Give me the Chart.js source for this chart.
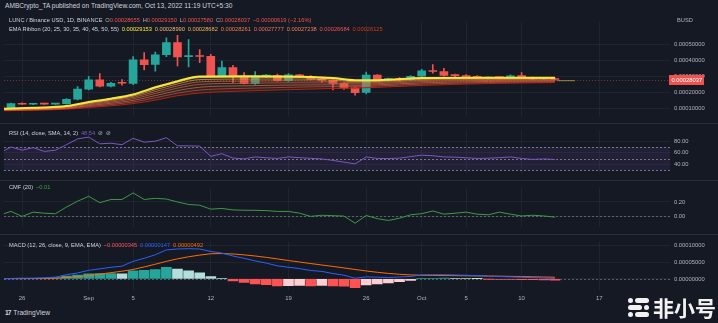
<!DOCTYPE html>
<html>
<head>
<meta charset="utf-8">
<script src="https://cdn.jsdelivr.net/npm/chart.js"></script>
<style>
  body { margin: 0; width: 718px; height: 323px; background: #151924; position: relative; overflow: hidden;
         font-family: "Liberation Sans", sans-serif; }
  canvas { position: absolute; left: 0; }
  .t { position: absolute; white-space: nowrap; font-size: 6px; line-height: 10px; color: #b2b5be;
       transform: scaleX(0.95); transform-origin: left center; }
  .t span { margin-right: 3px; }
  .sep { position: absolute; left: 0; width: 718px; height: 1px; background: #2a2e39; }
  .wm { position: absolute; background: #f2f2f2; border-radius: 3px; }
</style>
</head>
<body>
<canvas id="pricePane" width="718" height="109" style="top:14px"></canvas>
<canvas id="rsiPane" width="718" height="57" style="top:123px"></canvas>
<canvas id="cmfPane" width="718" height="54" style="top:180px"></canvas>
<canvas id="macdPane" width="718" height="71" style="top:234px"></canvas>
<div class="sep" style="top:123px"></div>
<div class="sep" style="top:180px"></div>
<div class="sep" style="top:234px"></div>

<div class="t" id="published" style="left:5px;top:1px;color:#d1d4dc;font-size:6.6px;transform:none">AMBCrypto_TA published on TradingView.com, Oct 13, 2022 11:19 UTC+5:30</div>
<div class="t" id="ohlcRow" style="left:9px;top:15px"></div>
<div class="t" id="ribbonRow" style="left:9px;top:24px"></div>
<div class="t" style="left:677px;top:15px">BUSD</div>
<div class="t" id="rsiRow" style="left:9px;top:128px"></div>
<div class="t" id="cmfRow" style="left:9px;top:182px"></div>
<div class="t" id="macdRow" style="left:9px;top:240px"></div>

<div class="t" style="left:5px;top:308px;color:#d1d4dc;font-size:7px"><b style="letter-spacing:-1px;margin-right:3px">17</b>TradingView</div>

<div class="wm" style="left:628px;top:298px;width:5px;height:5px;border-radius:50%"></div>
<div class="wm" style="left:635px;top:298px;width:14px;height:5px"></div>
<div class="wm" style="left:628px;top:305px;width:14px;height:5px"></div>
<div class="wm" style="left:644px;top:305px;width:5px;height:5px;border-radius:50%"></div>
<div class="wm" style="left:628px;top:312px;width:5px;height:5px;border-radius:50%"></div>
<div class="wm" style="left:635px;top:312px;width:14px;height:5px"></div>
<div style="position:absolute;left:653px;top:294px;font:bold 21px 'Noto Sans CJK SC';color:#f2f2f2;line-height:26px">非小号</div>

<script>
// LUNC / BUSD daily, Aug 24 .. Oct 13 2022 (first bar sits just left of the visible range)
const opens = [0.000105,
  0.000102, 0.000128, 0.000124, 0.000128, 0.000125, 0.000127, 0.000156, 0.000219, 0.000278, 0.000238,
  0.000262, 0.000255, 0.000405, 0.000376, 0.000438, 0.000515, 0.000425, 0.000430, 0.000428, 0.000300,
  0.000356, 0.000298, 0.000256, 0.000302, 0.000305, 0.000273, 0.000310, 0.000300, 0.000285, 0.000275,
  0.000255, 0.000228, 0.000198, 0.000308, 0.000280, 0.000284, 0.000279, 0.000301, 0.000337, 0.000330,
  0.000307, 0.000306, 0.000300, 0.000290, 0.000293, 0.000292, 0.000305, 0.000292, 0.000284, 0.00028655];
const highs = [0.000107,
  0.000131, 0.000133, 0.000130, 0.000131, 0.000130, 0.000160, 0.000236, 0.000300, 0.000318, 0.000262,
  0.000280, 0.000425, 0.000451, 0.000455, 0.000545, 0.000560, 0.000533, 0.000470, 0.000440, 0.000397,
  0.000370, 0.000324, 0.000330, 0.000312, 0.000315, 0.000318, 0.000314, 0.000305, 0.000290, 0.000280,
  0.000260, 0.000232, 0.000327, 0.000312, 0.000290, 0.000292, 0.000305, 0.000345, 0.000375, 0.000351,
  0.000315, 0.000312, 0.000306, 0.000298, 0.000298, 0.000310, 0.000324, 0.000296, 0.000292, 0.0002915];
const lows = [0.000099,
  0.000099, 0.000122, 0.000121, 0.000123, 0.000122, 0.000125, 0.000152, 0.000214, 0.000233, 0.000233,
  0.000245, 0.000248, 0.000342, 0.000333, 0.000425, 0.000366, 0.000360, 0.000387, 0.000298, 0.000296,
  0.000260, 0.000252, 0.000250, 0.000292, 0.000270, 0.000268, 0.000295, 0.000278, 0.000262, 0.000215,
  0.000218, 0.000182, 0.000190, 0.000275, 0.000272, 0.000270, 0.000276, 0.000298, 0.000320, 0.000302,
  0.000298, 0.000294, 0.000287, 0.000283, 0.000285, 0.000289, 0.000290, 0.000280, 0.000281, 0.0002758];
const closes = [0.000102,
  0.000128, 0.000124, 0.000128, 0.000125, 0.000127, 0.000155, 0.000220, 0.000278, 0.000238, 0.000256,
  0.000257, 0.000405, 0.000375, 0.000437, 0.000515, 0.000424, 0.000430, 0.000426, 0.000300, 0.000356,
  0.000301, 0.000256, 0.000302, 0.000304, 0.000273, 0.000310, 0.000298, 0.000283, 0.000274, 0.000256,
  0.000225, 0.000197, 0.000308, 0.000280, 0.000284, 0.000279, 0.000301, 0.000336, 0.000331, 0.000306,
  0.000305, 0.000299, 0.000290, 0.000293, 0.000292, 0.000304, 0.000292, 0.000284, 0.00028656, 0.00028037];

// EMA ribbon (20..55), read at these day offsets (0 = Aug 25)
const ribbonDays = [-1, 2, 5, 7, 9, 11, 13, 15, 17, 21, 25, 29, 31, 33, 37, 43, 49];
const ema20 = [0.0000950, 0.000102, 0.000113, 0.000138, 0.000159, 0.000186, 0.000231, 0.000270, 0.000300, 0.000301, 0.000300, 0.000290, 0.000276, 0.000276, 0.000290, 0.000292, 0.00029153];
const ema25 = [0.0000942, 0.0001008, 0.0001116, 0.0001356, 0.0001559, 0.0001819, 0.0002253, 0.0002636, 0.0002927, 0.0002945, 0.0002941, 0.0002854, 0.0002725, 0.0002729, 0.0002867, 0.0002894, 0.00028990];
const ema30 = [0.0000927, 0.0000989, 0.0001092, 0.0001314, 0.0001505, 0.0001750, 0.0002156, 0.0002525, 0.0002800, 0.0002833, 0.0002840, 0.0002775, 0.0002665, 0.0002675, 0.0002811, 0.0002850, 0.00028682];
const ema35 = [0.0000910, 0.0000966, 0.0001064, 0.0001265, 0.0001442, 0.0001669, 0.0002043, 0.0002396, 0.0002654, 0.0002703, 0.0002723, 0.0002682, 0.0002595, 0.0002612, 0.0002745, 0.0002798, 0.00028261];
const ema40 = [0.0000892, 0.0000941, 0.0001034, 0.0001212, 0.0001374, 0.0001582, 0.0001921, 0.0002258, 0.0002496, 0.0002564, 0.0002597, 0.0002583, 0.0002520, 0.0002544, 0.0002674, 0.0002742, 0.00027777];
const ema45 = [0.0000872, 0.0000913, 0.0001000, 0.0001153, 0.0001298, 0.0001483, 0.0001784, 0.0002102, 0.0002318, 0.0002406, 0.0002454, 0.0002471, 0.0002435, 0.0002468, 0.0002595, 0.0002680, 0.00027238];
const ema50 = [0.0000852, 0.0000885, 0.0000966, 0.0001093, 0.0001221, 0.0001384, 0.0001646, 0.0001946, 0.0002139, 0.0002247, 0.0002311, 0.0002359, 0.0002350, 0.0002391, 0.0002515, 0.0002617, 0.00026684];
const ema55 = [0.0000830, 0.0000855, 0.0000930, 0.0001030, 0.0001140, 0.0001280, 0.0001500, 0.0001780, 0.0001950, 0.0002080, 0.0002160, 0.0002240, 0.0002260, 0.0002310, 0.0002430, 0.0002550, 0.00026125];
const tailDays = [49.2, 50.8];
const tailValues = [0.000273, 0.000273];

const rsi = [60,
  70, 64.6, 68.9, 62.4, 64.6, 74, 84, 87, 75.5, 76.5,
  74, 85, 78.3, 80, 86, 72, 72, 71.5, 54, 58.5,
  51, 49.6, 53, 51.5, 50.4, 53, 51.7, 50.5, 49.6, 47,
  44, 41, 53, 50.4, 50.2, 50.9, 53.5, 56, 55, 53,
  52.6, 51.5, 50.4, 50.8, 51.7, 53, 50.4, 48.7, 49.6, 48.54];
const cmf = [0.02,
  0.069, 0.0, 0.059, 0.044, 0.037, 0.13, 0.21, 0.278, 0.19, 0.234,
  0.234, 0.325, 0.234, 0.25, 0.24, 0.2, 0.165, 0.155, 0.1, 0.11,
  0.09, 0.085, 0.084, 0.08, 0.069, 0.069, 0.044, 0.0, 0.016, 0.01,
  0.004, -0.094, 0.0125, -0.031, -0.056, -0.025, 0.022, 0.0375, 0.075, 0.031,
  0.044, 0.059, 0.031, 0.022, 0.059, 0.031, 0.006, 0.016, 0.006, -0.01];
const macdHist = [0.0000003,
  0.0000005, 0.0000012, 0.000001, 0.0000018, 0.000003, 0.0000085, 0.000011, 0.0000154, 0.0000156, 0.0000158,
  0.000015, 0.000024, 0.0000256, 0.000028, 0.000034, 0.000029, 0.000024, 0.000018, 0.0000068, 0.0000015,
  -0.000006, -0.0000103, -0.0000145, -0.000017, -0.0000205, -0.00002, -0.0000195, -0.0000205, -0.000019, -0.000021,
  -0.0000215, -0.000026, -0.0000175, -0.0000145, -0.000012, -0.000008, -0.0000045, 0.0000012, 0.000002, 0.0000025,
  0.000002, 0.0000015, 0.0000008, -0.0000005, -0.000001, -0.0000015, -0.000002, -0.0000025, -0.000003, -0.00000345];
const macdLine = [0.000001,
  0.0000013, 0.0000022, 0.0000022, 0.0000034, 0.0000053, 0.0000125, 0.0000176, 0.0000254, 0.0000298, 0.0000343,
  0.0000378, 0.000052, 0.0000611, 0.0000715, 0.000086, 0.0000885, 0.0000895, 0.0000885, 0.0000813, 0.0000765,
  0.0000678, 0.0000609, 0.0000533, 0.0000468, 0.0000387, 0.0000345, 0.0000305, 0.000025, 0.0000222, 0.000016,
  0.000011, 0.000002, 0.000006, 0.0000051, 0.0000043, 0.0000057, 0.0000073, 0.000012, 0.0000123, 0.0000125,
  0.0000117, 0.0000108, 0.0000098, 0.0000081, 0.0000071, 0.0000061, 0.000005, 0.0000038, 0.0000026, 0.00000147];
const macdSignal = [0.0000007,
  0.0000008, 0.000001, 0.0000012, 0.0000016, 0.0000023, 0.000004, 0.0000066, 0.00001, 0.0000142, 0.0000185,
  0.0000228, 0.000028, 0.0000355, 0.0000435, 0.000052, 0.0000595, 0.0000655, 0.0000705, 0.0000745, 0.000075,
  0.0000738, 0.0000712, 0.0000678, 0.0000638, 0.0000592, 0.0000545, 0.00005, 0.0000455, 0.0000412, 0.000037,
  0.0000325, 0.000028, 0.0000235, 0.0000196, 0.0000163, 0.0000137, 0.0000118, 0.0000108, 0.0000103, 0.00001,
  0.0000097, 0.0000093, 0.000009, 0.0000086, 0.0000081, 0.0000076, 0.000007, 0.0000063, 0.0000056, 0.00000492];

// time axis labels
const labelDays = [1, 7, 11, 18, 25, 32, 37, 41, 46, 53];
const dayLabels = ['26', 'Sep', '5', '12', '19', '26', 'Oct', '5', '10', '17'];

const priceTicks = [0.0001, 0.0002, 0.0003, 0.0004, 0.0005];
const rsiTicks = [40, 60, 80];
const rsiLevels = [70, 50, 30];
const cmfTicks = [0, 0.2];
const macdTicks = [0, 0.00005, 0.0001];

const FONT = '"Liberation Sans", sans-serif';
const AXIS_TEXT = '#b2b5be';
const GRID = 'rgba(42, 46, 57, 0.55)';
const UP = '#26a69a', DOWN = '#ef5350';
const RIBBON_COLORS = ['#f7e83a', 'rgba(245,183,113,0.7)', 'rgba(245,176,86,0.65)', 'rgba(245,123,78,0.6)',
  'rgba(245,109,88,0.6)', 'rgba(245,125,81,0.6)', 'rgba(245,81,81,0.6)', '#b3260b'];
const LEGEND_COLORS = ['#f7e83a', '#f5b771', '#f5b056', '#f57b4e', '#f56d58', '#f57d51', '#f55151', '#d33a1a'];

const dayX = closes.map((c, k) => k - 1);
const last = closes.length - 1;

function signed(v, digits) {
  return (v < 0 ? '\u2212' : '') + Math.abs(v).toFixed(digits);
}

function timeAxis(showLabels) {
  return {
    type: 'linear', min: -0.63, max: 59.37, offset: false,
    afterBuildTicks: s => { s.ticks = labelDays.map(v => ({ value: v })); },
    afterFit: s => { s.height = showLabels ? 15 : 0; },
    ticks: {
      display: showLabels, autoSkip: false, maxRotation: 0, padding: 5, color: AXIS_TEXT,
      font: { size: 6, family: FONT },
      callback: v => dayLabels[labelDays.indexOf(v)]
    },
    grid: { color: GRID, drawTicks: false, offset: false },
    border: { display: false }
  };
}

function valueAxis(min, max, ticks, digits) {
  return {
    position: 'right', min: min, max: max,
    afterBuildTicks: s => { s.ticks = ticks.map(v => ({ value: v })); },
    afterFit: s => { s.width = 48; },
    ticks: { padding: 4, color: AXIS_TEXT, font: { size: 5.8, family: FONT }, callback: v => v.toFixed(digits) },
    grid: { color: GRID, drawTicks: false },
    border: { display: false }
  };
}

function line(xs, ys, color, width, extra) {
  return Object.assign({
    type: 'line', data: xs.map((x, j) => ({ x: x, y: ys[j] })),
    borderColor: color, borderWidth: width, pointRadius: 0, fill: false, tension: 0, order: 1
  }, extra || {});
}

function hLine(chart, value, color, dash) {
  const { ctx, chartArea: a, scales: { y } } = chart;
  const py = Math.round(y.getPixelForValue(value)) + 0.5;
  ctx.save();
  ctx.strokeStyle = color;
  ctx.lineWidth = 1;
  ctx.setLineDash(dash);
  ctx.beginPath();
  ctx.moveTo(a.left, py);
  ctx.lineTo(a.right, py);
  ctx.stroke();
  ctx.restore();
}

function pane(id, datasets, yAxis, showTime, plugins) {
  return new Chart(document.getElementById(id), {
    type: 'bar',
    data: { datasets: datasets },
    options: {
      responsive: false, animation: false, devicePixelRatio: 1,
      layout: { padding: { left: 4, right: 0, top: 0, bottom: 0 } },
      plugins: { legend: { display: false }, tooltip: { enabled: false } },
      scales: { x: timeAxis(showTime), y: yAxis }
    },
    plugins: plugins || []
  });
}

// ---- price pane: candles + EMA ribbon
const candleColors = closes.map((c, k) => c >= opens[k] ? UP : DOWN);
const ribbon = [ema20, ema25, ema30, ema35, ema40, ema45, ema50, ema55];

const priceSets = ribbon.map((vals, j) => line(ribbonDays, vals, RIBBON_COLORS[j], j === 0 ? 2 : 1,
  { cubicInterpolationMode: 'monotone', order: 1 }));
priceSets[7].fill = { target: 0 };
priceSets[7].backgroundColor = 'rgba(120, 80, 30, 0.2)';
priceSets.push(line(tailDays, tailValues, 'rgba(170, 160, 70, 0.85)', 1, { order: 1 }));
priceSets.push({
  type: 'bar', data: dayX.map((x, k) => ({ x: x, y: [lows[k], highs[k]] })),
  backgroundColor: candleColors, barThickness: 1, grouped: false, order: 10
});
priceSets.push({
  type: 'bar', data: dayX.map((x, k) => ({ x: x, y: [opens[k], closes[k]] })),
  backgroundColor: candleColors, barThickness: 8, minBarLength: 1, grouped: false, order: 9
});

const lastPrice = {
  id: 'lastPrice',
  beforeDatasetsDraw(chart) {
    hLine(chart, closes[last], 'rgba(239, 83, 80, 0.45)', [1, 2]);
  },
  afterDraw(chart) {
    const { ctx, chartArea: a, scales: { y } } = chart;
    const py = Math.round(y.getPixelForValue(closes[last]));
    ctx.save();
    ctx.fillStyle = candleColors[last];
    ctx.fillRect(a.right - 1, py - 5, 35, 10);
    ctx.fillStyle = '#ffffff';
    ctx.font = '5.8px ' + FONT;
    ctx.textBaseline = 'middle';
    ctx.fillText(closes[last].toFixed(8), a.right + 1.5, py + 0.5);
    ctx.restore();
  }
};

pane('pricePane', priceSets, valueAxis(0.0000525, 0.000648, priceTicks, 8), false, [lastPrice]);

// ---- RSI pane
const rsiBand = {
  id: 'rsiBand',
  beforeDatasetsDraw(chart) {
    const { ctx, chartArea: a, scales: { y } } = chart;
    const top = y.getPixelForValue(rsiLevels[0]);
    const bottom = y.getPixelForValue(rsiLevels[2]);
    ctx.save();
    ctx.fillStyle = 'rgba(126, 87, 194, 0.12)';
    ctx.fillRect(a.left, top, a.right - a.left, bottom - top);
    ctx.restore();
    rsiLevels.forEach(v => hLine(chart, v, 'rgba(190, 192, 200, 0.55)', [2, 2]));
  }
};
pane('rsiPane', [line(dayX, rsi, '#7e57c2', 1)], valueAxis(26.2, 98.4, rsiTicks, 2), false, [rsiBand]);

// ---- CMF pane
const cmfZero = {
  id: 'cmfZero',
  beforeDatasetsDraw(chart) { hLine(chart, 0, 'rgba(120, 123, 134, 0.7)', [2, 2]); }
};
pane('cmfPane', [line(dayX, cmf, '#3f9a45', 1)], valueAxis(-0.14, 0.40, cmfTicks, 2), false, [cmfZero]);

// ---- MACD pane
const histColors = macdHist.map((h, k) => {
  const prev = k ? macdHist[k - 1] : h;
  if (h >= 0) return h >= prev ? '#26a69a' : '#b2dfdb';
  return h < prev ? '#ff5252' : '#ffcdd2';
});
const macdZero = {
  id: 'macdZero',
  beforeDatasetsDraw(chart) { hLine(chart, 0, 'rgba(120, 123, 134, 0.7)', [2, 2]); }
};
pane('macdPane', [
  line(dayX, macdLine, '#2962ff', 1, { order: 1 }),
  line(dayX, macdSignal, '#ff6d00', 1, { order: 2 }),
  { type: 'bar', data: dayX.map((x, k) => ({ x: x, y: macdHist[k] })), backgroundColor: histColors,
    barThickness: 10, grouped: false, order: 5 }
], valueAxis(-0.0000328, 0.0001108, macdTicks, 8), true, [macdZero]);

// ---- legends
function spans(parts) {
  return parts.map(p => '<span style="color:' + p[1] + '">' + p[0] + '</span>').join('');
}
function ohlc(letter, value) {
  return [letter + '<b style="font-weight:normal;color:' + DOWN + '">' + value.toFixed(8) + '</b>', '#b2b5be'];
}
const chg = closes[last] - closes[last - 1];
document.getElementById('ohlcRow').innerHTML = spans([
  ['LUNC / Binance USD, 1D, BINANCE', '#d1d4dc'],
  ohlc('O', opens[last]), ohlc('H', highs[last]), ohlc('L', lows[last]), ohlc('C', closes[last]),
  [signed(chg, 8) + ' (' + signed(chg / closes[last - 1] * 100, 2) + '%)', DOWN]
]);
document.getElementById('ribbonRow').innerHTML = spans(
  [['EMA Ribbon (20, 25, 30, 35, 40, 45, 50, 55)', '#d1d4dc']].concat(
    ribbon.map((vals, j) => [vals[vals.length - 1].toFixed(8), LEGEND_COLORS[j]])));
document.getElementById('rsiRow').innerHTML = spans([
  ['RSI (14, close, SMA, 14, 2)', '#d1d4dc'], [rsi[last].toFixed(2), '#7e57c2'],
  ['\u2298', '#b2b5be'], ['\u2298', '#b2b5be']]);
document.getElementById('cmfRow').innerHTML = spans([
  ['CMF (20)', '#d1d4dc'], [signed(cmf[last], 2), '#43a047']]);
document.getElementById('macdRow').innerHTML = spans([
  ['MACD (12, 26, close, 9, EMA, EMA)', '#d1d4dc'], [signed(macdHist[last], 8), '#ff5252'],
  [signed(macdLine[last], 8), '#2962ff'], [signed(macdSignal[last], 8), '#ff6d00']]);
</script>
</body>
</html>
